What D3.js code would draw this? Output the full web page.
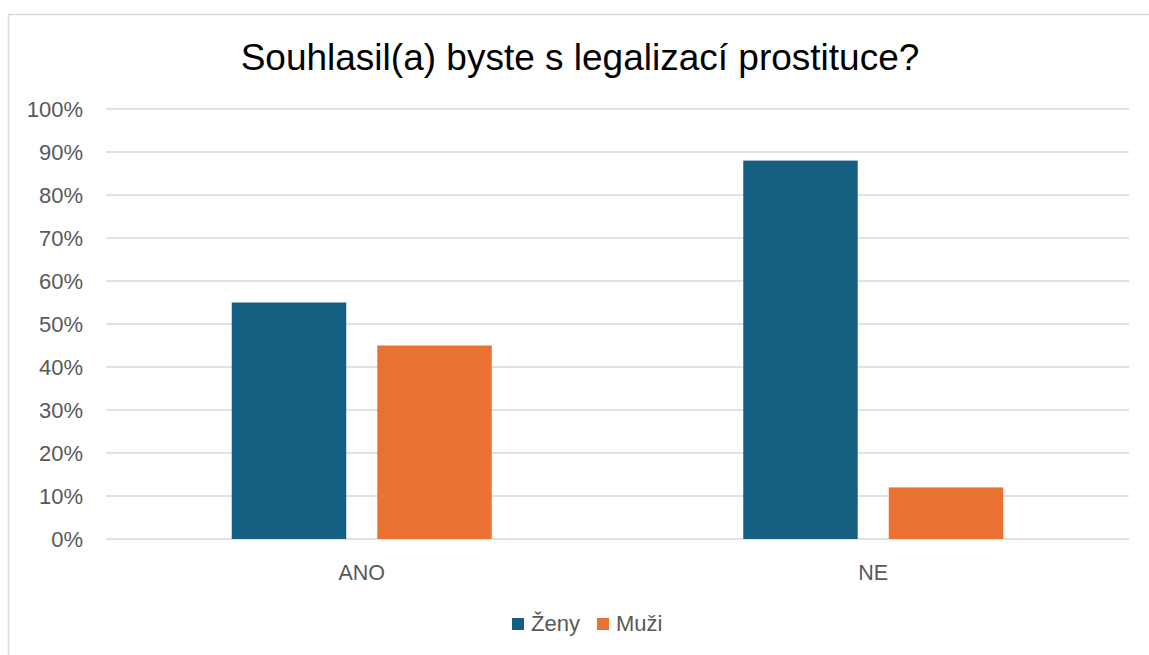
<!DOCTYPE html>
<html>
<head>
<meta charset="utf-8">
<script src="https://cdn.jsdelivr.net/npm/d3@7"></script>
<style>
  body { margin: 0; background: #fff; }
  svg { display: block; }
</style>
</head>
<body>
<svg id="chart" width="1149" height="655"></svg>
<script>
// data
var categories = ["ANO", "NE"];
var seriesNames = ["Ženy", "Muži"];
var zeny = [55, 88];
var muzi = [45, 12];
var yTicks = [0, 10, 20, 30, 40, 50, 60, 70, 80, 90, 100];
var colors = ["#156082", "#E97132"];

var svg = d3.select("#chart");
var width = 1149, height = 655;
var margin = { top: 109, right: 20, bottom: 116, left: 106 };
var plotW = 1129 - margin.left;
var plotH = height - margin.bottom - margin.top;
var labelFont = "'Liberation Sans', Arial, sans-serif";

// outer frame
svg.append("rect")
    .attr("x", 8.5).attr("y", 14.5)
    .attr("width", 1160).attr("height", 700)
    .attr("fill", "#fff")
    .attr("stroke", "#d9d9d9").attr("stroke-width", 1.5);

// title
svg.append("text")
    .attr("x", 580).attr("y", 70)
    .attr("text-anchor", "middle")
    .style("font-family", "'Liberation Sans', Arial, sans-serif")
    .style("font-size", "37px")
    .attr("fill", "#000")
    .text("Souhlasil(a) byste s legalizací prostituce?");

var g = svg.append("g")
    .attr("transform", "translate(" + margin.left + "," + margin.top + ")");

var y = d3.scaleLinear().domain([0, 100]).range([plotH, 0]);
var x0 = d3.scaleBand().domain(categories).range([0, plotW]).padding(0);
var groupW = 260;
var x1 = d3.scaleBand().domain(seriesNames)
    .range([(x0.bandwidth() - groupW) / 2, (x0.bandwidth() + groupW) / 2])
    .paddingInner(0.2133).paddingOuter(0);

// gridlines
g.append("g")
    .selectAll("line")
    .data(yTicks)
    .join("line")
    .attr("x1", 0).attr("x2", plotW)
    .attr("y1", function (d) { return y(d); })
    .attr("y2", function (d) { return y(d); })
    .attr("stroke", "#d9d9d9").attr("stroke-width", 1.5);

// y axis labels
var yAxis = g.append("g")
    .call(d3.axisLeft(y).tickValues(yTicks).tickSize(0).tickPadding(23)
        .tickFormat(function (d) { return d + "%"; }));
yAxis.select(".domain").remove();
yAxis.selectAll("text")
    .style("font-family", labelFont)
    .style("font-size", "22px")
    .attr("fill", "#595959");

// bars
var rows = categories.map(function (c, i) {
    return { cat: c, vals: [zeny[i], muzi[i]] };
});
g.append("g")
    .selectAll("g")
    .data(rows)
    .join("g")
    .attr("transform", function (d) { return "translate(" + x0(d.cat) + ",0)"; })
    .selectAll("rect")
    .data(function (d) { return d.vals.map(function (v, j) { return { s: seriesNames[j], v: v, j: j }; }); })
    .join("rect")
    .attr("x", function (d) { return x1(d.s); })
    .attr("width", x1.bandwidth())
    .attr("y", function (d) { return y(d.v); })
    .attr("height", function (d) { return plotH - y(d.v); })
    .attr("fill", function (d) { return colors[d.j]; });

// x axis labels
var xAxis = g.append("g")
    .attr("transform", "translate(0," + plotH + ")")
    .call(d3.axisBottom(x0).tickSize(0).tickPadding(26));
xAxis.select(".domain").remove();
xAxis.selectAll("text")
    .style("font-family", labelFont)
    .style("font-size", "21.5px")
    .attr("fill", "#595959");

// legend
var legend = svg.append("g").attr("transform", "translate(512,618)");
var lx = [0, 85];
seriesNames.forEach(function (s, i) {
    var item = legend.append("g").attr("transform", "translate(" + lx[i] + ",0)");
    item.append("rect").attr("width", 12).attr("height", 12).attr("fill", colors[i]);
    item.append("text")
        .attr("x", 19).attr("y", 13)
        .style("font-family", labelFont)
        .style("font-size", "22px")
        .attr("fill", "#595959")
        .text(s);
});
</script>
</body>
</html>
